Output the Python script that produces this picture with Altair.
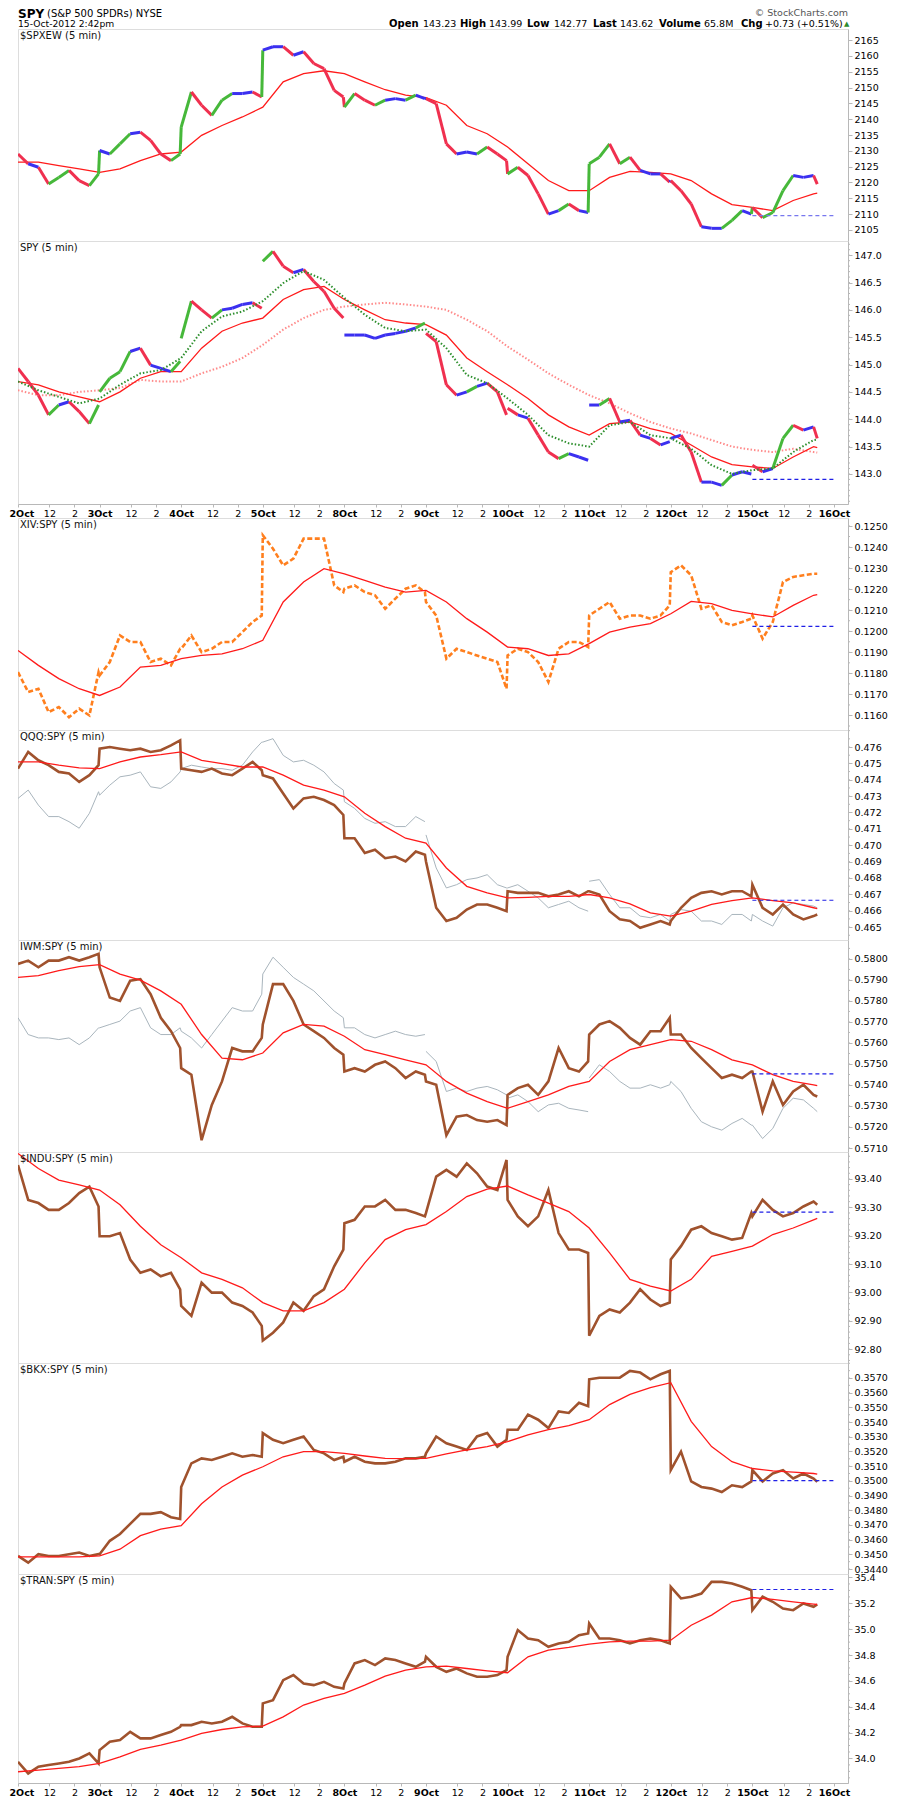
import altair as alt
import pandas as pd
import numpy as np

FONT = "DejaVu Sans"
W = 830
BORDER = "#b8b8b8"

# ---------------- time grid (5-min bar units, 78 bars per session) ----------------
DAY_LABELS = ["2Oct", "3Oct", "4Oct", "5Oct", "8Oct", "9Oct", "10Oct", "11Oct", "12Oct", "15Oct", "16Oct"]
X_DOMAIN = [0, 793.4]
SLOTS = [0, 9.75, 19.5, 29.25, 39, 48.75, 58.5, 68.25, 77]
LAST_SLOTS = [0, 9.75, 19.5, 29.25, 39, 48.75, 58.5, 62]
MA_SLOTS = [0, 19.5, 39, 58.5]
X_MAIN = [78 * d + s for d in range(9) for s in SLOTS] + [78 * 9 + s for s in LAST_SLOTS]
DAY_MAIN = [d for d in range(9) for _ in SLOTS] + [9] * len(LAST_SLOTS)
X_MA = [78 * d + s for d in range(10) for s in MA_SLOTS] + [78 * 9 + 62]
TICK_VALUES = [78 * d + o for d in range(10) for o in (0, 30, 54)] + [780]
REF_X = [702, 780]

# ---------------- series ----------------
SPXEW = [2129.0, 2125.9, 2124.8, 2119.5, 2121.6, 2123.8, 2120.6, 2119.0, 2122.7,
         2130.1, 2129.0, 2132.2, 2135.4, 2135.9, 2133.3, 2129.0, 2126.9, 2129.0,
         2137.5, 2148.6, 2144.4, 2141.2, 2146.0, 2148.1, 2148.1, 2148.6, 2147.0,
         2161.8, 2162.9, 2162.9, 2160.2, 2161.3, 2157.6, 2156.0, 2149.1, 2147.0,
         2143.8, 2148.1, 2146.0, 2144.4, 2146.0, 2146.5, 2146.0, 2147.6, 2146.5,
         2146.5, 2144.9, 2132.2, 2129.0, 2129.6, 2129.0, 2131.2, 2129.0, 2126.9,
         2122.7, 2124.8, 2122.2, 2116.4, 2110.0, 2111.1, 2113.2, 2111.1, 2110.5,
         2125.9, 2128.0, 2132.2, 2125.9, 2128.0, 2123.8, 2122.7, 2122.7, 2120.1,
         2120.6, 2117.4, 2113.2, 2106.0, 2105.5, 2105.5, 2108.0, 2111.1, 2110.0,
         2112.1, 2108.9, 2110.5, 2117.4, 2122.2, 2121.6, 2122.2, 2119.5]
SPXEW_MA = [2126.4, 2126.4, 2125.3, 2124.3, 2123.2, 2124.3, 2126.9, 2129.0, 2129.6, 2134.9,
            2138.0, 2140.7, 2143.8, 2151.8, 2154.4, 2155.3, 2154.4, 2151.8, 2149.3, 2147.6,
            2146.8, 2144.4, 2138.0, 2135.4, 2131.2, 2125.9, 2120.6, 2117.4, 2117.4, 2121.6,
            2123.5, 2123.2, 2122.7, 2120.6, 2116.4, 2113.0, 2112.1, 2111.1, 2114.3, 2116.4, 2116.6]

SPY = [144.93, 144.69, 144.44, 144.08, 144.26, 144.32, 144.14, 143.92, 144.26,
       144.50, 144.75, 144.87, 145.24, 145.30, 144.99, 144.93, 144.87, 145.06,
       145.48, 146.16, 146.00, 145.85, 146.00, 146.03, 146.10, 146.13, 146.03,
       146.89, 147.07, 146.80, 146.68, 146.74, 146.52, 146.34, 146.03, 145.85,
       145.54, 145.54, 145.54, 145.48, 145.54, 145.57, 145.61, 145.67, 145.76,
       145.57, 145.42, 144.63, 144.44, 144.50, 144.60, 144.66, 144.50, 144.08,
       144.20, 144.08, 144.02, 143.71, 143.40, 143.28, 143.37, 143.31, 143.25,
       144.26, 144.26, 144.38, 143.95, 143.98, 143.71, 143.65, 143.53, 143.59,
       143.65, 143.71, 143.40, 142.85, 142.85, 142.79, 142.98, 143.04, 143.00,
       143.16, 143.04, 143.10, 143.65, 143.89, 143.80, 143.86, 143.65]
SPY_MA_FAST = [144.69, 144.53, 144.41, 144.29, 144.38, 144.63, 144.84, 144.90, 145.12, 145.61,
               145.88, 145.97, 146.16, 146.49, 146.71, 146.55, 146.22, 145.91, 145.67, 145.61,
               145.64, 145.30, 144.81, 144.66, 144.38, 144.08, 143.71, 143.56, 143.50, 143.89,
               143.95, 143.71, 143.65, 143.46, 143.16, 143.00, 143.07, 143.10, 143.40, 143.62, 143.63]
SPY_MA_MID = [144.69, 144.63, 144.50, 144.41, 144.32, 144.50, 144.75, 144.87, 144.87, 145.30,
              145.61, 145.76, 145.85, 146.19, 146.37, 146.43, 146.19, 146.00, 145.82, 145.76,
              145.73, 145.54, 145.12, 144.87, 144.63, 144.38, 144.08, 143.86, 143.71, 143.92,
              143.95, 143.83, 143.74, 143.53, 143.31, 143.17, 143.13, 143.10, 143.31, 143.50, 143.48]
SPY_MA_SLOW = [144.53, 144.44, 144.44, 144.50, 144.53, 144.57, 144.72, 144.69, 144.69, 144.84,
               144.96, 145.12, 145.36, 145.64, 145.85, 146.00, 146.06, 146.10, 146.13, 146.10,
               146.06, 146.00, 145.82, 145.61, 145.33, 145.09, 144.84, 144.63, 144.44, 144.29,
               144.11, 143.95, 143.83, 143.74, 143.62, 143.50, 143.44, 143.40, 143.46, 143.40, 143.39]

XIV = [0.11806, 0.11711, 0.11727, 0.11616, 0.11640, 0.11592, 0.11632, 0.11600, 0.11806,
       0.11790, 0.11854, 0.11980, 0.11949, 0.11949, 0.11854, 0.11870, 0.11838, 0.11917,
       0.11917, 0.11980, 0.11901, 0.11917, 0.11949, 0.11949, 0.11996, 0.12044, 0.12075,
       0.12456, 0.12392, 0.12313, 0.12345, 0.12440, 0.12440, 0.12440, 0.12218, 0.12186,
       0.12202, 0.12218, 0.12186, 0.12171, 0.12107, 0.12155, 0.12202, 0.12218, 0.12186,
       0.12139, 0.12075, 0.11870, 0.11917, 0.11901, 0.11885, 0.11870, 0.11854, 0.11727,
       0.11885, 0.11917, 0.11901, 0.11854, 0.11759, 0.11917, 0.11949, 0.11949, 0.11925,
       0.12075, 0.12107, 0.12139, 0.12060, 0.12075, 0.12075, 0.12060, 0.12075, 0.12123,
       0.12281, 0.12313, 0.12266, 0.12107, 0.12123, 0.12044, 0.12028, 0.12044, 0.12060,
       0.12075, 0.11965, 0.12044, 0.12234, 0.12258, 0.12266, 0.12273, 0.12273]
XIV_MA = [0.11909, 0.11838, 0.11775, 0.11727, 0.11695, 0.11735, 0.11830, 0.11838, 0.11870, 0.11885,
          0.11893, 0.11917, 0.11957, 0.12139, 0.12234, 0.12297, 0.12273, 0.12242, 0.12210, 0.12186,
          0.12194, 0.12139, 0.12060, 0.11996, 0.11925, 0.11917, 0.11885, 0.11893, 0.11941, 0.11996,
          0.12020, 0.12036, 0.12083, 0.12142, 0.12131, 0.12099, 0.12083, 0.12068, 0.12123, 0.12171, 0.12174]

QQQ = [0.47468, 0.47570, 0.47519, 0.47489, 0.47448, 0.47438, 0.47387, 0.47428, 0.47489,
       0.47590, 0.47600, 0.47590, 0.47580, 0.47590, 0.47570, 0.47580, 0.47610, 0.47641,
       0.47468, 0.47458, 0.47448, 0.47468, 0.47438, 0.47428, 0.47468, 0.47509, 0.47458,
       0.47428, 0.47408, 0.47316, 0.47225, 0.47286, 0.47296, 0.47276, 0.47245, 0.47185,
       0.47043, 0.47043, 0.46952, 0.46972, 0.46921, 0.46931, 0.46901, 0.46962, 0.46942,
       0.46901, 0.46618, 0.46537, 0.46557, 0.46607, 0.46638, 0.46638, 0.46618, 0.46597,
       0.46719, 0.46709, 0.46709, 0.46709, 0.46688, 0.46699, 0.46719, 0.46688, 0.46719,
       0.46719, 0.46699, 0.46597, 0.46547, 0.46537, 0.46496, 0.46516, 0.46537, 0.46516,
       0.46537, 0.46618, 0.46678, 0.46709, 0.46719, 0.46699, 0.46719, 0.46719, 0.46688,
       0.46759, 0.46618, 0.46577, 0.46638, 0.46577, 0.46547, 0.46567, 0.46577]
QQQ_CMP = [0.47286, 0.47337, 0.47245, 0.47175, 0.47175, 0.47144, 0.47104, 0.47195, 0.47327,
           0.47306, 0.47367, 0.47418, 0.47428, 0.47448, 0.47357, 0.47347, 0.47387, 0.47448,
           0.47468, 0.47489, 0.47478, 0.47468, 0.47468, 0.47458, 0.47489, 0.47570, 0.47630,
           0.47630, 0.47651, 0.47549, 0.47509, 0.47519, 0.47489, 0.47448, 0.47377, 0.47337,
           0.47266, 0.47225, 0.47164, 0.47134, 0.47144, 0.47114, 0.47114, 0.47175, 0.47144,
           0.47063, 0.46861, 0.46739, 0.46759, 0.46790, 0.46800, 0.46820, 0.46759, 0.46739,
           0.46739, 0.46759, 0.46719, 0.46678, 0.46618, 0.46638, 0.46658, 0.46618, 0.46597,
           0.46780, 0.46790, 0.46699, 0.46618, 0.46618, 0.46567, 0.46557, 0.46577, 0.46537,
           0.46577, 0.46607, 0.46597, 0.46537, 0.46537, 0.46516, 0.46577, 0.46577, 0.46537,
           0.46577, 0.46537, 0.46506, 0.46618, 0.46648, 0.46638, 0.46628, 0.46618]
QQQ_MA = [0.47509, 0.47509, 0.47489, 0.47472, 0.47468, 0.47509, 0.47539, 0.47553, 0.47570, 0.47519,
          0.47499, 0.47478, 0.47478, 0.47428, 0.47367, 0.47337, 0.47296, 0.47195, 0.47114, 0.47043,
          0.47013, 0.46861, 0.46749, 0.46709, 0.46678, 0.46682, 0.46688, 0.46688, 0.46699, 0.46678,
          0.46642, 0.46587, 0.46567, 0.46597, 0.46638, 0.46662, 0.46678, 0.46662, 0.46648, 0.46618, 0.46613]

IWM = [0.57976, 0.57992, 0.57960, 0.57992, 0.57992, 0.58008, 0.57992, 0.58008, 0.58024,
       0.57960, 0.57816, 0.57800, 0.57896, 0.57904, 0.57832, 0.57720, 0.57656, 0.57576,
       0.57480, 0.57449, 0.57137, 0.57305, 0.57417, 0.57576, 0.57560, 0.57560, 0.57624,
       0.57688, 0.57880, 0.57880, 0.57800, 0.57688, 0.57656, 0.57624, 0.57576, 0.57544,
       0.57464, 0.57480, 0.57464, 0.57496, 0.57512, 0.57480, 0.57433, 0.57464, 0.57449,
       0.57417, 0.57401, 0.57161, 0.57249, 0.57257, 0.57233, 0.57225, 0.57233, 0.57209,
       0.57353, 0.57385, 0.57401, 0.57353, 0.57417, 0.57576, 0.57480, 0.57464, 0.57512,
       0.57640, 0.57688, 0.57704, 0.57672, 0.57624, 0.57592, 0.57656, 0.57656, 0.57720,
       0.57640, 0.57640, 0.57576, 0.57528, 0.57480, 0.57433, 0.57449, 0.57433, 0.57464,
       0.57464, 0.57273, 0.57417, 0.57305, 0.57369, 0.57401, 0.57353, 0.57345]
IWM_CMP = [0.57720, 0.57640, 0.57624, 0.57624, 0.57616, 0.57624, 0.57592, 0.57624, 0.57672,
           0.57672, 0.57688, 0.57704, 0.57752, 0.57768, 0.57672, 0.57640, 0.57640, 0.57672,
           0.57656, 0.57624, 0.57576, 0.57640, 0.57704, 0.57768, 0.57752, 0.57752, 0.57832,
           0.57928, 0.58008, 0.57960, 0.57912, 0.57880, 0.57848, 0.57800, 0.57752, 0.57720,
           0.57672, 0.57672, 0.57640, 0.57624, 0.57640, 0.57656, 0.57640, 0.57632, 0.57640,
           0.57560, 0.57512, 0.57369, 0.57385, 0.57369, 0.57385, 0.57393, 0.57377, 0.57353,
           0.57337, 0.57353, 0.57321, 0.57273, 0.57305, 0.57313, 0.57289, 0.57281, 0.57273,
           0.57433, 0.57496, 0.57464, 0.57417, 0.57385, 0.57385, 0.57401, 0.57385, 0.57401,
           0.57417, 0.57369, 0.57289, 0.57225, 0.57201, 0.57185, 0.57217, 0.57241, 0.57209,
           0.57209, 0.57145, 0.57193, 0.57289, 0.57337, 0.57329, 0.57289, 0.57273]
IWM_MA = [0.57912, 0.57920, 0.57944, 0.57963, 0.57973, 0.57928, 0.57899, 0.57848, 0.57784, 0.57640,
          0.57528, 0.57520, 0.57552, 0.57648, 0.57688, 0.57680, 0.57632, 0.57568, 0.57544, 0.57520,
          0.57496, 0.57417, 0.57361, 0.57321, 0.57289, 0.57321, 0.57353, 0.57393, 0.57417, 0.57512,
          0.57568, 0.57592, 0.57616, 0.57608, 0.57568, 0.57520, 0.57496, 0.57449, 0.57417, 0.57401, 0.57397]

INDU = [93.449, 93.326, 93.315, 93.291, 93.291, 93.315, 93.350, 93.373, 93.303,
        93.198, 93.198, 93.209, 93.116, 93.069, 93.081, 93.057, 93.069, 93.011,
        92.952, 92.917, 93.034, 92.999, 92.999, 92.964, 92.952, 92.929, 92.882,
        92.830, 92.858, 92.894, 92.964, 92.935, 92.987, 93.011, 93.092, 93.151,
        93.244, 93.256, 93.303, 93.303, 93.326, 93.291, 93.291, 93.280, 93.268,
        93.280, 93.408, 93.432, 93.408, 93.455, 93.420, 93.373, 93.361, 93.467,
        93.326, 93.268, 93.233, 93.268, 93.361, 93.209, 93.151, 93.151, 93.139,
        92.847, 92.917, 92.940, 92.929, 92.964, 93.011, 92.975, 92.952, 92.964,
        93.116, 93.163, 93.221, 93.233, 93.209, 93.198, 93.186, 93.192, 93.280,
        93.268, 93.326, 93.291, 93.268, 93.280, 93.303, 93.320, 93.309]
INDU_MA = [93.490, 93.437, 93.396, 93.379, 93.361, 93.309, 93.233, 93.168, 93.122, 93.069,
           93.046, 93.016, 92.964, 92.935, 92.935, 92.964, 93.011, 93.104, 93.186, 93.221,
           93.239, 93.285, 93.338, 93.364, 93.375, 93.344, 93.315, 93.285, 93.227, 93.139,
           93.046, 93.022, 93.005, 93.046, 93.127, 93.145, 93.163, 93.204, 93.227, 93.256, 93.261]

BKX = [0.34489, 0.34443, 0.34501, 0.34489, 0.34489, 0.34501, 0.34512, 0.34489, 0.34501,
       0.34501, 0.34592, 0.34638, 0.34707, 0.34775, 0.34775, 0.34787, 0.34752, 0.34740,
       0.34958, 0.35119, 0.35153, 0.35142, 0.35164, 0.35187, 0.35164, 0.35176, 0.35164,
       0.35325, 0.35279, 0.35256, 0.35279, 0.35302, 0.35210, 0.35187, 0.35142, 0.35164,
       0.35130, 0.35164, 0.35130, 0.35119, 0.35119, 0.35130, 0.35153, 0.35153, 0.35164,
       0.35187, 0.35302, 0.35256, 0.35233, 0.35210, 0.35302, 0.35325, 0.35233, 0.35279,
       0.35348, 0.35348, 0.35451, 0.35416, 0.35359, 0.35473, 0.35462, 0.35531, 0.35508,
       0.35691, 0.35702, 0.35702, 0.35702, 0.35748, 0.35737, 0.35691, 0.35725, 0.35748,
       0.35073, 0.35199, 0.34996, 0.34958, 0.34947, 0.34924, 0.34970, 0.34958, 0.34996,
       0.35073, 0.34996, 0.35050, 0.35073, 0.35016, 0.35050, 0.35016, 0.34993]
BKX_MA = [0.34482, 0.34482, 0.34482, 0.34482, 0.34489, 0.34535, 0.34627, 0.34672, 0.34695, 0.34844,
          0.34958, 0.35039, 0.35096, 0.35164, 0.35199, 0.35199, 0.35187, 0.35169, 0.35153, 0.35151,
          0.35153, 0.35183, 0.35210, 0.35233, 0.35267, 0.35313, 0.35348, 0.35375, 0.35416, 0.35519,
          0.35588, 0.35634, 0.35668, 0.35405, 0.35233, 0.35130, 0.35084, 0.35068, 0.35059, 0.35050, 0.35045]

TRAN = [33.974, 33.884, 33.936, 33.949, 33.961, 33.974, 34.000, 34.039, 33.961,
        34.065, 34.129, 34.142, 34.206, 34.155, 34.155, 34.181, 34.206, 34.245,
        34.258, 34.258, 34.284, 34.271, 34.284, 34.322, 34.271, 34.245, 34.245,
        34.426, 34.451, 34.606, 34.645, 34.580, 34.567, 34.593, 34.554, 34.541,
        34.580, 34.735, 34.761, 34.722, 34.774, 34.761, 34.735, 34.709, 34.748,
        34.786, 34.709, 34.670, 34.696, 34.658, 34.632, 34.632, 34.645, 34.683,
        34.786, 34.993, 34.928, 34.915, 34.864, 34.890, 34.902, 34.954, 34.967,
        35.044, 34.928, 34.928, 34.915, 34.890, 34.915, 34.928, 34.915, 34.890,
        35.328, 35.238, 35.251, 35.276, 35.366, 35.366, 35.354, 35.328, 35.302,
        35.147, 35.251, 35.212, 35.160, 35.147, 35.199, 35.173, 35.191]
TRAN_MA = [33.897, 33.910, 33.923, 33.936, 33.961, 34.013, 34.070, 34.103, 34.142, 34.194,
           34.224, 34.245, 34.250, 34.322, 34.413, 34.464, 34.503, 34.567, 34.637, 34.683,
           34.709, 34.714, 34.696, 34.678, 34.663, 34.786, 34.838, 34.859, 34.884, 34.902,
           34.908, 34.908, 34.915, 35.031, 35.109, 35.212, 35.245, 35.230, 35.212, 35.194, 35.191]

# horizontal reference levels (15 Oct)
REF = {"SPXEW": 2109.5, "SPY": 142.90, "XIV": 0.12023, "QQQ": 0.46664, "IWM": 0.57453,
       "INDU": 93.283, "BKX": 0.35002, "TRAN": 35.307}

# axis ticks
T_SPXEW = [2105, 2110, 2115, 2120, 2125, 2130, 2135, 2140, 2145, 2150, 2155, 2160, 2165]
T_SPY = [143.0, 143.5, 144.0, 144.5, 145.0, 145.5, 146.0, 146.5, 147.0]
T_XIV = [0.116, 0.117, 0.118, 0.119, 0.120, 0.121, 0.122, 0.123, 0.124, 0.125]
T_QQQ = [0.465, 0.466, 0.467, 0.468, 0.469, 0.470, 0.471, 0.472, 0.473, 0.474, 0.475, 0.476]
T_IWM = [0.571, 0.572, 0.573, 0.574, 0.575, 0.576, 0.577, 0.578, 0.579, 0.580]
T_INDU = [92.8, 92.9, 93.0, 93.1, 93.2, 93.3, 93.4]
T_BKX = [0.344, 0.345, 0.346, 0.347, 0.348, 0.349, 0.350, 0.351, 0.352, 0.353, 0.354, 0.355, 0.356, 0.357]
T_TRAN = [34.0, 34.2, 34.4, 34.6, 34.8, 35.0, 35.2, 35.4]

# colours
UP, FLAT, DOWN = "#46b83a", "#3b30f0", "#f0304f"
MA_RED = "#ff1a1a"
BROWN = "#a0522d"
GREY = "#a9b5bd"
ORANGE = "#ff7f1e"
REF_BLUE = "#1f1fe6"

# ---------------- axes ----------------
arr = "[" + ",".join("'" + s + "'" for s in DAY_LABELS) + "]"
LABEL_EXPR = ("datum.value % 78 == 30 ? '12' : (datum.value % 78 == 54 ? '2' : "
              + arr + "[round(datum.value / 78)])")
X_AXIS = alt.Axis(values=TICK_VALUES, labelExpr=LABEL_EXPR, labelOverlap=False,
                  labelFlush=True, labelFlushOffset=9, labelFont=FONT, labelFontSize=9.5,
                  labelFontWeight={"condition": {"test": "datum.value % 78 == 0", "value": "bold"},
                                   "value": "normal"},
                  labelColor="#000", tickColor=BORDER, tickSize=3, domainColor=BORDER,
                  labelPadding=1, grid=False, title=None)


def y_axis(ticks, fmt):
    return alt.Axis(orient="right", values=ticks, format=fmt, labelFont=FONT, labelFontSize=9.5,
                    labelColor="#000", tickColor=BORDER, tickSize=4, domainColor=BORDER,
                    labelPadding=2, grid=False, title=None, labelOverlap=False, labelFlush=False)


def seg_frame(ys, thr, connect):
    rows = []
    for i in range(len(X_MAIN) - 1):
        if not connect and DAY_MAIN[i + 1] != DAY_MAIN[i]:
            continue
        d = ys[i + 1] - ys[i]
        c = "up" if d > thr else ("down" if d < -thr else "flat")
        rows.append({"x": X_MAIN[i], "y": ys[i], "x2": X_MAIN[i + 1], "y2": ys[i + 1], "c": c})
    return pd.DataFrame(rows)


def panel(h, ydom, yticks, yfmt, title, lines, segs=None, ref=None, ref_color=REF_BLUE,
          minor=None, show_x=False):
    xs = alt.Scale(domain=X_DOMAIN, nice=False, zero=False)
    ys = alt.Scale(domain=ydom, nice=False, zero=False)
    xenc = alt.X("x:Q", scale=xs, axis=X_AXIS if show_x else None)
    yax = y_axis(yticks, yfmt)
    yenc = alt.Y("y:Q", scale=ys, axis=yax)
    layers = []
    if minor is not None:
        vals = [v for v in np.arange(yticks[0] - 20 * minor, yticks[-1] + 20 * minor, minor)
                if ydom[0] <= v <= ydom[1]]
        layers.append(alt.Chart(pd.DataFrame({"y": vals})).mark_rule(color=BORDER, strokeWidth=1)
                      .encode(y=yenc, x=alt.value(W), x2=alt.value(W + 2)))
    for (lx, ly, col, sw, dash, groups) in lines:
        df = pd.DataFrame({"x": lx, "y": ly})
        kw = dict(color=col, strokeWidth=sw, clip=True)
        if dash:
            kw["strokeDash"] = dash
        enc = dict(x=xenc, y=yenc)
        if groups is not None:
            df["g"] = groups
            enc["detail"] = "g:N"
        layers.append(alt.Chart(df).mark_line(**kw).encode(**enc))
    if segs is not None:
        layers.insert(len(layers) - 1 if len(layers) > 1 else len(layers),
                      alt.Chart(segs).mark_rule(strokeWidth=3, clip=True).encode(
                          x=xenc, y=yenc, x2="x2:Q", y2="y2:Q",
                          color=alt.Color("c:N", scale=alt.Scale(domain=["up", "flat", "down"],
                                                                 range=[UP, FLAT, DOWN]),
                                          legend=None)))
    if ref is not None:
        layers.append(alt.Chart(pd.DataFrame({"x": REF_X, "y": [ref, ref]}))
                      .mark_line(color=ref_color, strokeWidth=1.2, strokeDash=[4, 3])
                      .encode(x=xenc, y=yenc))
    layers.append(alt.Chart(pd.DataFrame({"t": [title]}))
                  .mark_text(align="left", baseline="middle", font=FONT, fontSize=10, color="#111")
                  .encode(text="t:N", x=alt.value(2), y=alt.value(7)))
    return alt.layer(*layers).properties(width=W, height=h)


CMP_GROUPS = [0 if d < 5 else (1 if d < 7 else 2) for d in DAY_MAIN]

p1 = panel(212, [2101.5, 2168.5], T_SPXEW, "d", "$SPXEW (5 min)",
           [(X_MA, SPXEW_MA, MA_RED, 1.3, None, None)],
           segs=seg_frame(SPXEW, 1.5, True), ref=REF["SPXEW"], ref_color="#7777ee")
p2 = panel(263, [142.45, 147.26], T_SPY, ".1f", "SPY (5 min)",
           [(X_MA, SPY_MA_SLOW, "#ff8a8a", 2, [1.5, 2], None),
            (X_MA, SPY_MA_MID, MA_RED, 1.3, None, None),
            (X_MA, SPY_MA_FAST, "#2d8f2d", 2, [1.5, 2], None)],
           segs=seg_frame(SPY, 0.08, False), ref=REF["SPY"], minor=0.1, show_x=True)
p3 = panel(212, [0.11531, 0.12538], T_XIV, ".4f", "XIV:SPY (5 min)",
           [(X_MAIN, XIV, ORANGE, 2.6, [5, 2.5], None),
            (X_MA, XIV_MA, MA_RED, 1.3, None, None)],
           ref=REF["XIV"], minor=0.0005)
p4 = panel(210, [0.46421, 0.47704], T_QQQ, ".3f", "QQQ:SPY (5 min)",
           [(X_MAIN, QQQ_CMP, GREY, 1, None, CMP_GROUPS),
            (X_MAIN, QQQ, BROWN, 2.6, None, None),
            (X_MA, QQQ_MA, MA_RED, 1.3, None, None)],
           ref=REF["QQQ"], minor=0.0005)
p5 = panel(212, [0.57081, 0.5809], T_IWM, ".4f", "IWM:SPY (5 min)",
           [(X_MAIN, IWM_CMP, GREY, 1, None, CMP_GROUPS),
            (X_MAIN, IWM, BROWN, 2.6, None, None),
            (X_MA, IWM_MA, MA_RED, 1.3, None, None)],
           ref=REF["IWM"], minor=0.0005)
p6 = panel(211, [92.751, 93.495], T_INDU, ".2f", "$INDU:SPY (5 min)",
           [(X_MAIN, INDU, BROWN, 2.6, None, None),
            (X_MA, INDU_MA, MA_RED, 1.3, None, None)],
           ref=REF["INDU"], minor=0.02)
p7 = panel(211, [0.34366, 0.35802], T_BKX, ".4f", "$BKX:SPY (5 min)",
           [(X_MAIN, BKX, BROWN, 2.6, None, None),
            (X_MA, BKX_MA, MA_RED, 1.3, None, None)],
           ref=REF["BKX"], minor=0.0005)
p8 = panel(209, [33.81, 35.427], T_TRAN, ".1f", "$TRAN:SPY (5 min)",
           [(X_MAIN, TRAN, BROWN, 2.6, None, None),
            (X_MA, TRAN_MA, MA_RED, 1.3, None, None)],
           ref=REF["TRAN"], minor=0.05, show_x=True)

# ---------------- header ----------------
HEAD_BOLD = pd.DataFrame({
    "t": ["SPY", "Open", "High", "Low", "Last", "Volume", "Chg"],
    "px": [0, 371, 442, 509, 575, 641, 723],
    "py": [6, 16, 16, 16, 16, 16, 16],
    "fs": [12, 10, 10, 10, 10, 10, 10],
})
HEAD_NORMAL = pd.DataFrame({
    "t": ["(S&P 500 SPDRs) NYSE", "15-Oct-2012 2:42pm", "143.23", "143.99", "142.77", "143.62",
          "65.8M", "+0.73 (+0.51%)"],
    "px": [29, 0, 405, 471, 536, 602, 686, 747],
    "py": [6, 16, 16, 16, 16, 16, 16, 16],
    "fs": [10, 9.2, 9.5, 9.5, 9.5, 9.5, 9.5, 9.5],
})
h_bold = alt.Chart(HEAD_BOLD).mark_text(align="left", baseline="middle", font=FONT,
                                        fontWeight="bold", color="#000").encode(
    text="t:N", x=alt.X("px:Q", scale=None), y=alt.Y("py:Q", scale=None),
    size=alt.Size("fs:Q", scale=None))
h_norm = alt.Chart(HEAD_NORMAL).mark_text(align="left", baseline="middle", font=FONT,
                                          color="#000").encode(
    text="t:N", x=alt.X("px:Q", scale=None), y=alt.Y("py:Q", scale=None),
    size=alt.Size("fs:Q", scale=None))
h_site = alt.Chart(pd.DataFrame({"t": ["\u00a9 StockCharts.com"]})).mark_text(
    align="right", baseline="middle", font=FONT, fontSize=9.5, color="#555").encode(
    text="t:N", x=alt.value(W), y=alt.value(5))
h_tri = alt.Chart(pd.DataFrame({"t": ["\u25b2"]})).mark_text(
    align="left", baseline="middle", font=FONT, fontSize=7, color="#2e8b2e").encode(
    text="t:N", x=alt.value(826), y=alt.value(16))
header = alt.layer(h_bold, h_norm, h_site, h_tri).properties(
    width=W, height=21, view=alt.ViewBackground(strokeOpacity=0))

spacer = alt.Chart(pd.DataFrame({"v": [0]})).mark_point(opacity=0).encode(
    x=alt.value(0), y=alt.value(0)).properties(width=W, height=14,
                                               view=alt.ViewBackground(strokeOpacity=0))

chart = alt.vconcat(header, p1, p2, spacer, p3, p4, p5, p6, p7, p8,
                    spacing=0, bounds="flush",
                    padding={"left": 0, "top": 0, "right": 2, "bottom": 2}
                    ).configure_view(stroke=BORDER, strokeWidth=1).configure(background="white")

chart.save("out.html", embed_options={"renderer": "svg", "actions": False})
